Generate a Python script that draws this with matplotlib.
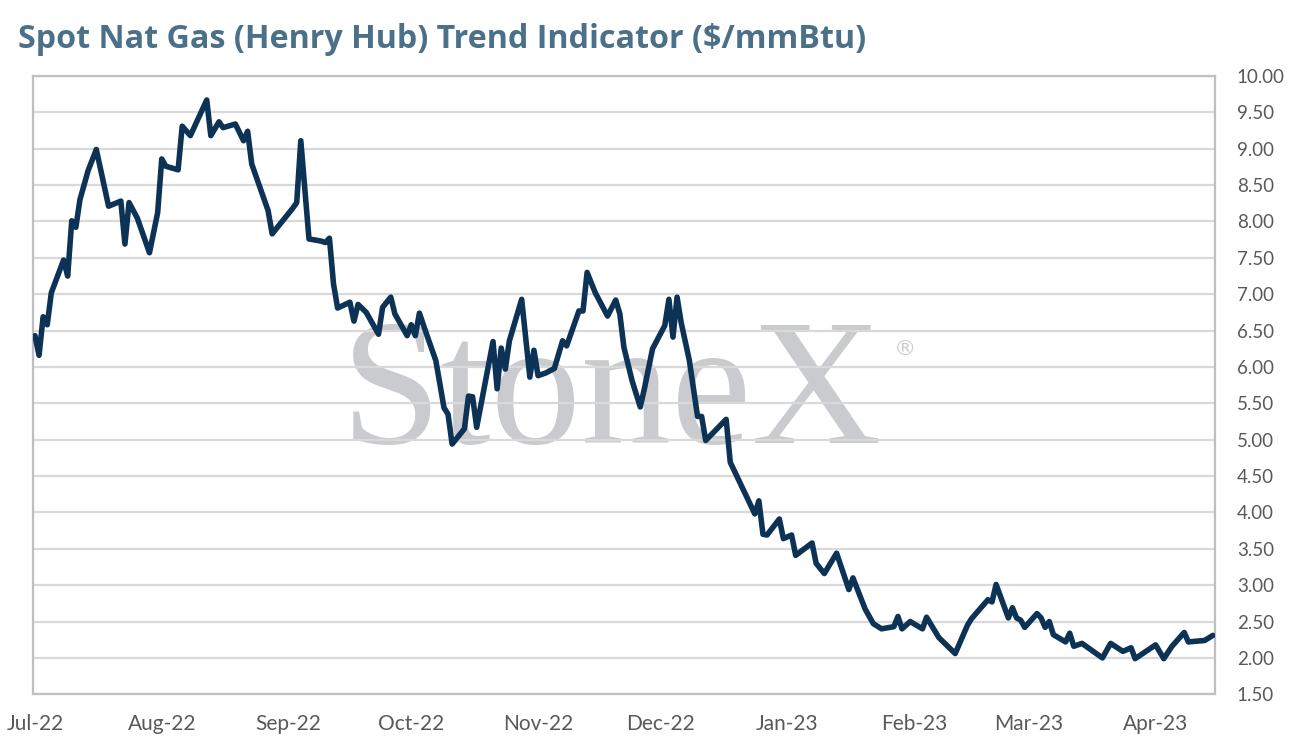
import matplotlib
matplotlib.use("Agg")
import matplotlib.pyplot as plt
import pandas as pd

# Days since 2022-07-01 for each vertex of the trend line
day_offsets = [0, 1, 2, 3, 4, 7, 8, 9, 10, 11, 13, 15, 18, 21, 22, 23, 25, 28, 30, 31,
               32, 35, 36, 38, 42, 43, 45, 46, 49, 51, 52, 53, 57, 58, 63, 64, 65, 67, 70, 71,
               72, 73, 74, 77, 78, 79, 81, 84, 85, 87, 88, 91, 92, 93, 94, 96, 98, 99, 100, 101,
               102, 105, 106, 107, 108, 112, 113, 114, 115, 116, 119, 121, 122, 123, 125, 127, 129, 130, 133, 134,
               135, 137, 140, 142, 143, 144, 146, 148, 149, 151, 154, 155, 156, 157, 158, 160, 162, 163, 164, 169,
               170, 176, 177, 178, 179, 182, 183, 185, 186, 190, 191, 193, 196, 199, 200, 203, 205, 207, 210, 211,
               212, 214, 217, 218, 221, 225, 228, 229, 233, 234, 235, 238, 239, 240, 241, 242, 245, 246, 247, 248,
               249, 252, 253, 254, 256, 261, 263, 266, 268, 269, 274, 276, 278, 281, 282, 284, 286, 288]
prices = [6.43, 6.16, 6.69, 6.58, 7.02, 7.47, 7.25, 8.01, 7.92, 8.30, 8.70, 8.99, 8.21, 8.28, 7.69, 8.26, 8.05, 7.57, 8.12, 8.86,
          8.76, 8.71, 9.31, 9.18, 9.67, 9.18, 9.37, 9.29, 9.34, 9.11, 9.24, 8.79, 8.15, 7.83, 8.18, 8.26, 9.11, 7.76, 7.73, 7.71,
          7.77, 7.14, 6.81, 6.89, 6.63, 6.86, 6.75, 6.45, 6.82, 6.96, 6.73, 6.43, 6.58, 6.43, 6.74, 6.41, 6.09, 5.77, 5.44, 5.35,
          4.94, 5.15, 5.60, 5.59, 5.17, 6.35, 5.70, 6.26, 5.97, 6.36, 6.93, 5.86, 6.23, 5.88, 5.92, 5.98, 6.36, 6.29, 6.77, 6.77,
          7.30, 7.02, 6.70, 6.92, 6.73, 6.27, 5.81, 5.45, 5.70, 6.25, 6.57, 6.93, 6.41, 6.96, 6.61, 6.09, 5.32, 5.32, 4.99, 5.28,
          4.69, 3.98, 4.16, 3.70, 3.69, 3.91, 3.64, 3.69, 3.41, 3.58, 3.30, 3.16, 3.44, 2.94, 3.10, 2.67, 2.47, 2.40, 2.43, 2.57,
          2.40, 2.50, 2.40, 2.56, 2.28, 2.06, 2.45, 2.54, 2.80, 2.77, 3.01, 2.55, 2.69, 2.55, 2.52, 2.42, 2.61, 2.55, 2.42, 2.50,
          2.32, 2.22, 2.34, 2.16, 2.20, 2.00, 2.20, 2.09, 2.14, 1.99, 2.18, 1.99, 2.16, 2.35, 2.22, 2.23, 2.24, 2.31]

start_date = "2022-07-01"
month_ticks = ["2022-07-01", "2022-08-01", "2022-09-01", "2022-10-01", "2022-11-01",
               "2022-12-01", "2023-01-01", "2023-02-01", "2023-03-01", "2023-04-01"]
month_labels = ["Jul-22", "Aug-22", "Sep-22", "Oct-22", "Nov-22",
                "Dec-22", "Jan-23", "Feb-23", "Mar-23", "Apr-23"]
y_ticks = [1.5, 2.0, 2.5, 3.0, 3.5, 4.0, 4.5, 5.0, 5.5, 6.0, 6.5, 7.0, 7.5, 8.0, 8.5, 9.0, 9.5, 10.0]
title = "Spot Nat Gas (Henry Hub) Trend Indicator ($/mmBtu)"

dates = pd.Timestamp(start_date) + pd.to_timedelta(day_offsets, unit="D")

W, H = 1292, 754
fig = plt.figure(figsize=(W / 100, H / 100), dpi=100)
left, right, top, bottom = 32.5, 1214.5, 76, 694.3
ax = fig.add_axes([left / W, 1 - bottom / H, (right - left) / W, (bottom - top) / H])

ax.plot(dates, prices, color="#0c3255", linewidth=4.0, solid_joinstyle="round",
        solid_capstyle="round", zorder=3)

x0 = pd.Timestamp(start_date) - pd.Timedelta(days=0.6)
x1 = pd.Timestamp(start_date) + pd.Timedelta(days=288.4)
ax.set_xlim(x0, x1)
ax.set_ylim(1.5, 10.0)

ax.set_yticks(y_ticks)
ax.set_yticklabels([f"{v:.2f}" for v in y_ticks])
ax.yaxis.tick_right()
ax.set_xticks(pd.to_datetime(month_ticks))
ax.set_xticklabels(month_labels)

for lab in ax.get_yticklabels():
    lab.set_fontfamily(["Lato", "DejaVu Sans"])
    lab.set_fontsize(13.5)
    lab.set_color("#595959")
for lab in ax.get_xticklabels():
    lab.set_fontfamily(["Lato", "DejaVu Sans"])
    lab.set_fontsize(15)
    lab.set_color("#595959")
ax.tick_params(axis="y", length=0, pad=16)
ax.tick_params(axis="x", length=0, pad=14)

ax.grid(axis="y", color="#d9d9d9", linewidth=1.6)
ax.set_axisbelow("line")
for s in ax.spines.values():
    s.set_color("#bfbfbf")
    s.set_linewidth(1.6)

# watermark
ax.text(0.49, 0.406, "StoneX", transform=ax.transAxes, ha="center", va="baseline",
        fontsize=130, family=["Liberation Serif", "DejaVu Serif"], color="#cacbce", zorder=0.5)
ax.text(0.738, 0.558, "®", transform=ax.transAxes, ha="center", va="center",
        fontsize=16, family=["DejaVu Sans"], color="#cacbce", zorder=0.5)

fig.text(18 / W, 1 - 40 / H, title, ha="left", va="center", fontsize=23.2, fontweight="bold",
         family=["Open Sans", "DejaVu Sans"], color="#4b7089")

fig.savefig("out.png", dpi=100)
